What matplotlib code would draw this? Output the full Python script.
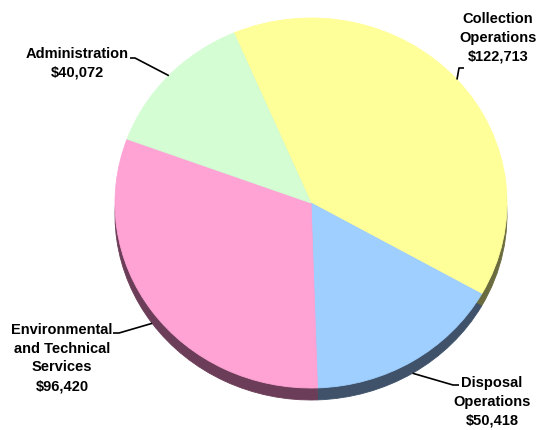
import matplotlib
matplotlib.use("Agg")
import matplotlib.pyplot as plt
import numpy as np

# ---- data ----
categories = ["Collection\nOperations", "Disposal\nOperations",
              "Environmental\nand Technical\nServices", "Administration"]
values = [122713, 50418, 96420, 40072]
value_labels = ["$122,713", "$50,418", "$96,420", "$40,072"]

# ---- styles ----
colors = ["#ffff99", "#9fcfff", "#ffa3d5", "#d4fdd4"]
side_colors = ["#6b6b40", "#3f526a", "#6c3d58", "#566b56"]

W, H = 540, 430
fig = plt.figure(figsize=(W / 100, H / 100), dpi=100)
fig.patch.set_facecolor("white")

cx, cy, rx, ry = 311, 203, 196, 185
depth = 12
start = 113.2

ax = fig.add_axes([(cx - rx) / W, (H - cy - ry) / H, 2 * rx / W, 2 * ry / H])
side_wedges, _ = ax.pie(values, colors=side_colors, startangle=start,
                        counterclock=False, center=(0, -depth / ry),
                        wedgeprops=dict(linewidth=0))
wedges, _ = ax.pie(values, colors=colors, startangle=start,
                   counterclock=False, wedgeprops=dict(linewidth=0))
for w in side_wedges + wedges:
    w.set_clip_on(False)
    w.set_edgecolor(w.get_facecolor())
    w.set_linewidth(0.6)
ax.set_aspect("auto")
ax.set_xlim(-1, 1)
ax.set_ylim(-1, 1)
ax.axis("off")

# overlay in pixel coordinates
ov = fig.add_axes([0, 0, 1, 1], facecolor="none")
ov.set_xlim(0, W)
ov.set_ylim(H, 0)
ov.axis("off")

# label layout: text centre, leader start, leader corner
layout = [
    ((498, 38), (464, 68), (459, 68)),
    ((492, 402), (459, 385), (453, 385)),
    ((62, 358), (113, 333), (119, 333)),
    ((77, 63), (130, 58), (135, 58)),
]

for w, name, val, (tc, ls, lc) in zip(wedges, categories, value_labels, layout):
    mid = np.deg2rad((w.theta1 + w.theta2) / 2)
    px, py = np.cos(mid), np.sin(mid)
    if py < 0:
        py -= depth / ry
    dx, dy = ax.transData.transform((px, py))
    ax_px, ax_py = dx, H - dy
    ov.plot([ls[0], lc[0], ax_px], [ls[1], lc[1], ax_py], color="black",
            lw=1.2, solid_capstyle="butt")
    ov.text(tc[0], tc[1], name + "\n" + val, ha="center", va="center",
            multialignment="center", fontsize=10.5, fontweight="bold",
            family="Liberation Sans", linespacing=1.45, color="black")

fig.savefig("out.png", dpi=100, facecolor="white")
